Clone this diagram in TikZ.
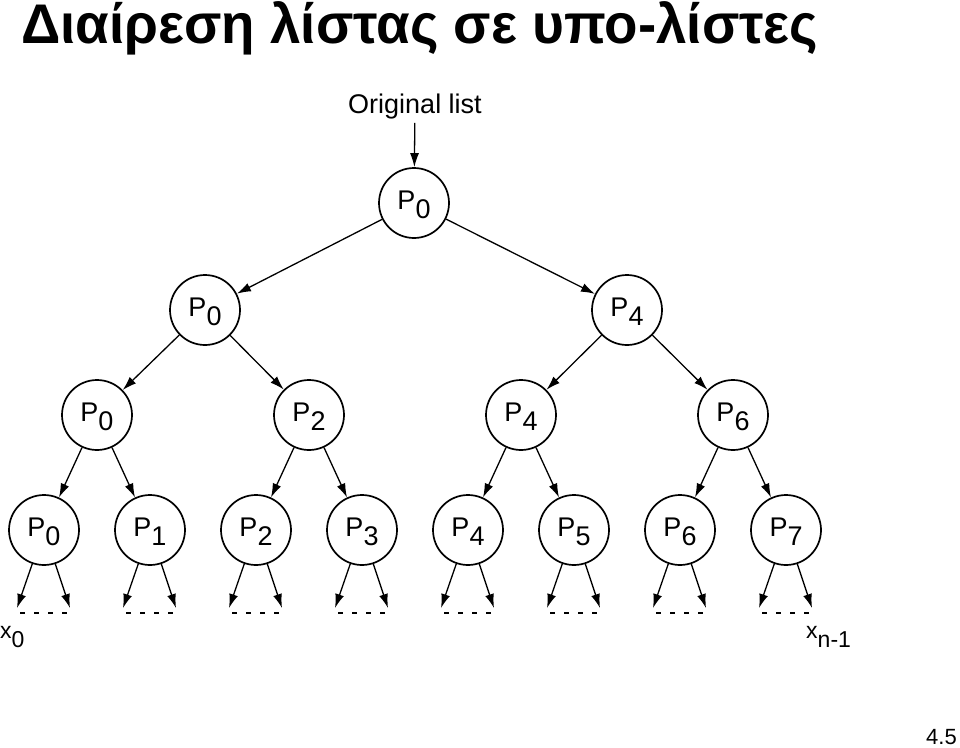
\documentclass[tikz,border=0pt]{standalone}
\usepackage{fontspec}
\setmainfont{Liberation Sans}
\usetikzlibrary{arrows.meta}

\tikzstyle{arrow} = [line width=1.3pt,-{Latex[length=14pt,width=9pt]}]
\tikzstyle{proc} = [draw,circle,line width=1.7pt,minimum size=70pt,inner sep=0pt,font=\fontsize{27}{27}\selectfont]
\newcommand{\Pn}[1]{P\smash{\raisebox{-9pt}{#1}}\rule[-5.3pt]{0pt}{5.3pt}}

\begin{document}
\begin{tikzpicture}[x=1pt,y=-1pt]
  \useasboundingbox (0,0) rectangle (960,747);

  % Judul
  \node[anchor=base west,inner sep=0pt] (title) at (21,43)
    {\resizebox{797pt}{40pt}{\fontsize{10}{10}\selectfont\bfseries\rule{0pt}{7.16pt}\smash{Διαίρεση λίστας σε υπο-λίστες}}};

  % Daftar awal
  \node[anchor=base,inner sep=4pt,font=\fontsize{27}{27}\selectfont] (orig) at (415,113) {Original list};
  \node[proc] (r) at (414,203) {\Pn{0}};
  \draw[arrow] (orig) -- (r);

  % Tingkat 1
  \foreach \i/\x in {0/205, 4/627} {
    \node[proc] (a\i) at (\x,310) {\Pn{\i}};
    \draw[arrow] (r) -- (a\i);
  }

  % Tingkat 2
  \foreach \i/\p in {0/0, 2/0, 4/4, 6/4} {
    \node[proc] (b\i) at ({97+106*\i},415) {\Pn{\i}};
    \draw[arrow] (a\p) -- (b\i);
  }

  % Tingkat 3 dan ujung
  \foreach \i/\p in {0/0, 1/0, 2/2, 3/2, 4/4, 5/4, 6/6, 7/6} {
    \node[proc] (c\i) at ({44+106*\i},530) {\Pn{\i}};
    \draw[arrow] (b\p) -- (c\i);
    \coordinate (e\i a) at ({17+106*\i},608);
    \coordinate (e\i b) at ({70+106*\i},608);
    \draw[arrow] (c\i) -- (e\i a);
    \draw[arrow] (c\i) -- (e\i b);
    \draw[line width=2pt,dash pattern=on 5pt off 9pt] ({20+106*\i},613) -- ({67+106*\i},613);
  }

  % Label x
  \node[anchor=base west,inner sep=0pt,font=\fontsize{23}{23}\selectfont] (x0) at (0,638) {x\raisebox{-9pt}{0}};
  \node[anchor=base west,inner sep=0pt,font=\fontsize{23}{23}\selectfont] (xn) at (806,638) {x\raisebox{-9pt}{n-1}};

  % Nomor halaman
  \node[anchor=base east,inner sep=0pt,font=\fontsize{22}{22}\selectfont] (page) at (957,744) {4.5};
\end{tikzpicture}
\end{document}
